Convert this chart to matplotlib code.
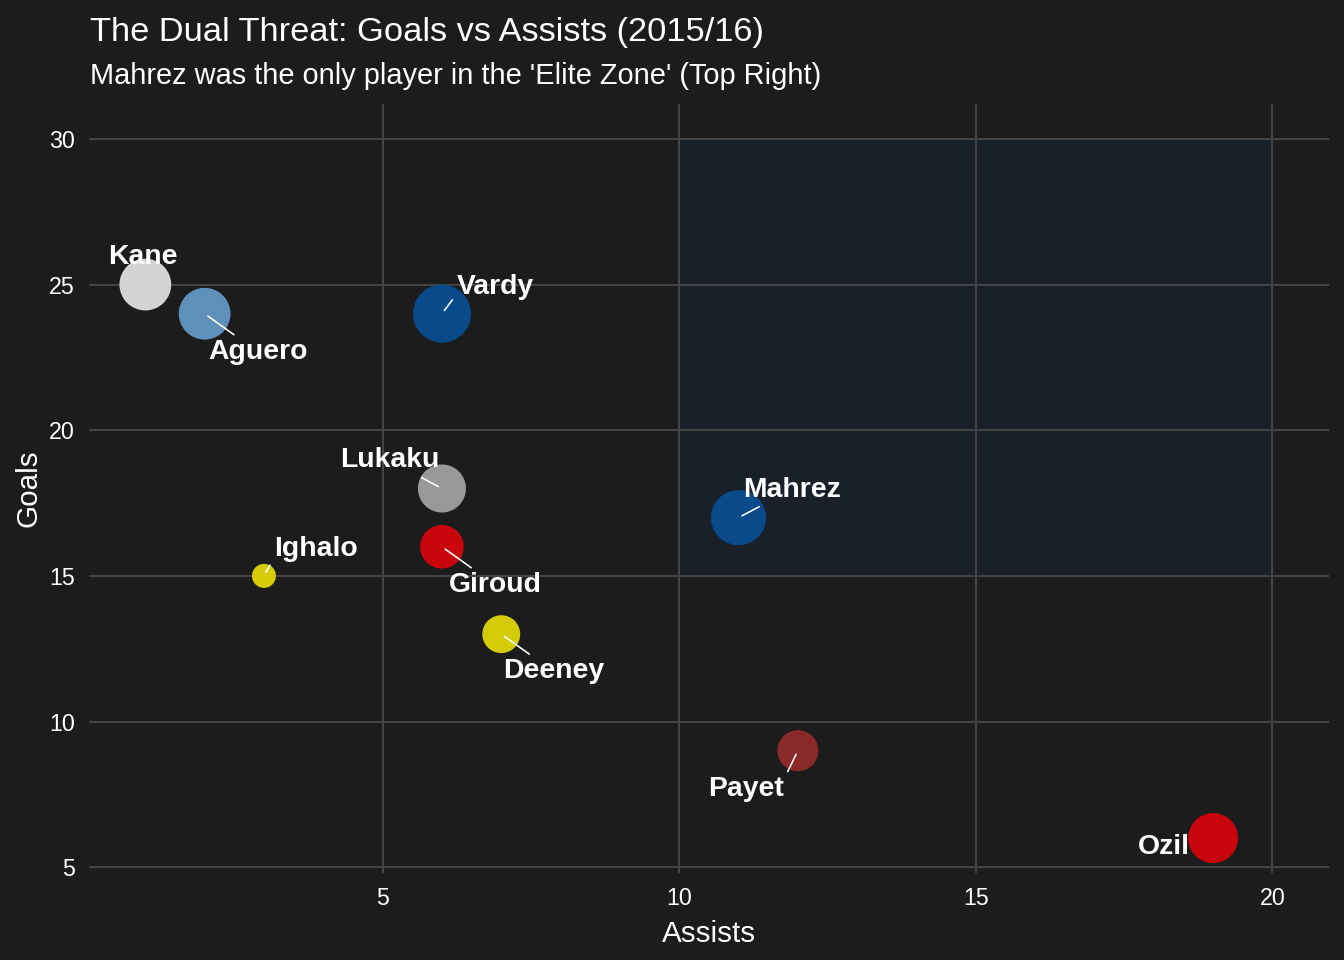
import numpy as np
import matplotlib
matplotlib.use('Agg')
import matplotlib.pyplot as plt
from matplotlib.patches import Rectangle

# Dados (2015/16)
players = ['Kane', 'Aguero', 'Vardy', 'Lukaku', 'Ighalo',
           'Giroud', 'Deeney', 'Mahrez', 'Payet', 'Ozil']
goals = [25, 24, 24, 18, 15, 16, 13, 17, 9, 6]
assists = [1, 2, 6, 6, 3, 6, 7, 11, 12, 19]
colors = ['#d4d4d4', '#5f90ba', '#084a8a', '#999999', '#d4cc06',
          '#c8060c', '#d4cc06', '#084a8a', '#8a2a2a', '#c8060c']

# Zona de elite
zone_x = [10, 20]
zone_y = [15, 30]

# deslocamento dos rotulos (pontos) e ponto de ligacao do segmento
label_offsets = {
    'Kane': (-1, 14, None),
    'Aguero': (26.5, -19, (0.5, 0.5)),
    'Vardy': (26.5, 13.5, (0.0, 0.2)),
    'Lukaku': (-26, 14, (0.5, 0.5)),
    'Ighalo': (26, 13.5, (0.0, 0.15)),
    'Giroud': (26.5, -19, (0.5, 0.5)),
    'Deeney': (26, -18.5, (0.5, 0.5)),
    'Mahrez': (26.5, 14, (0.5, 0.5)),
    'Payet': (-26, -19, (1.0, 0.85)),
    'Ozil': (-24.5, -4.5, None),
}

BG = '#1c1c1c'
plt.rcParams['font.family'] = ['Liberation Sans', 'DejaVu Sans']

fig = plt.figure(figsize=(1344 / 144, 960 / 144), dpi=144, facecolor=BG)
ax = fig.add_axes([0.0662, 0.0906, 0.9225, 0.8011])
ax.set_facecolor(BG)

g = np.array(goals)
a = np.array(assists)
ga = g + a

# escala de tamanho (area), como no ggplot
r = 12 + 17 * np.sqrt((ga - ga.min()) / (ga.max() - ga.min()))
sizes = r ** 2

ax.add_patch(Rectangle((zone_x[0], zone_y[0]), zone_x[1] - zone_x[0],
                       zone_y[1] - zone_y[0], facecolor='#19202a',
                       edgecolor='none', zorder=0.5))

ax.scatter(a, g, s=sizes, c=colors, edgecolors='none', zorder=3)

for i, name in enumerate(players):
    dx, dy, rel = label_offsets[name]
    props = None
    if rel is not None:
        props = dict(arrowstyle='-', color='white', lw=0.8,
                     shrinkA=0, shrinkB=2, relpos=rel)
    ax.annotate(name, (a[i], g[i]), xytext=(dx, dy),
                textcoords='offset points', ha='center', va='center',
                color='white', fontsize=14.2, fontweight='bold',
                arrowprops=props, zorder=4)

xmin, xmax = a.min(), max(a.max(), zone_x[1])
ymin, ymax = g.min(), max(g.max(), zone_y[1])
ax.set_xlim(xmin - 0.05 * (xmax - xmin), xmax + 0.05 * (xmax - xmin))
ax.set_ylim(ymin - 0.05 * (ymax - ymin), ymax + 0.05 * (ymax - ymin))

ax.set_xticks([5, 10, 15, 20])
ax.set_yticks([5, 10, 15, 20, 25, 30])
ax.grid(True, color='#444444', lw=1.0, zorder=1)
ax.set_axisbelow(True)
for sp in ax.spines.values():
    sp.set_visible(False)
ax.tick_params(length=0, colors='white', labelsize=11.6, pad=7)

ax.set_xlabel('Assists', color='white', fontsize=14.8, labelpad=5)
ax.set_ylabel('Goals', color='white', fontsize=14.8, labelpad=3.5)

fig.text(0.067, 1 - 41 / 960, 'The Dual Threat: Goals vs Assists (2015/16)',
         color='white', fontsize=17.2, ha='left', va='baseline')
fig.text(0.067, 1 - 84 / 960,
         "Mahrez was the only player in the 'Elite Zone' (Top Right)",
         color='white', fontsize=14.5, ha='left', va='baseline')

fig.savefig('out.png', dpi=144, facecolor=BG)
